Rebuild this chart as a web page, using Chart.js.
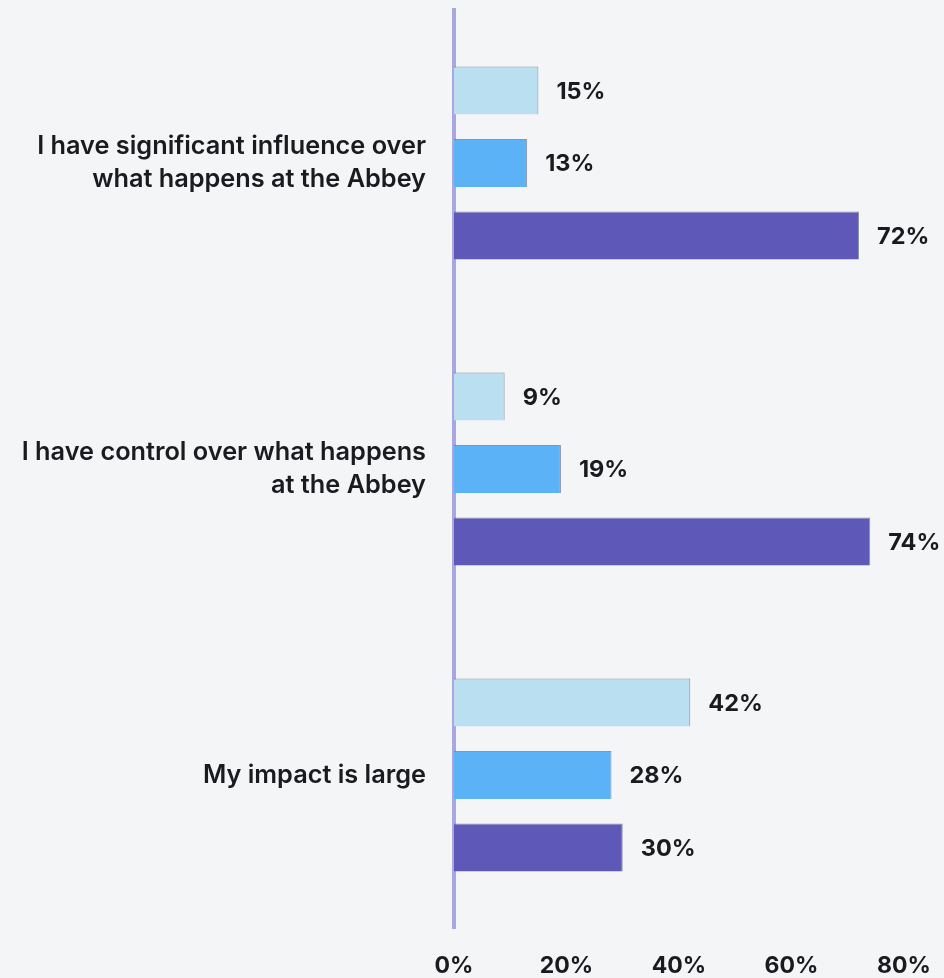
<!DOCTYPE html>
<html>
<head>
<meta charset="utf-8">
<script src="https://cdn.jsdelivr.net/npm/chart.js@4/dist/chart.umd.min.js"></script>
<style>
  html, body { margin: 0; padding: 0; background: #f4f5f7; }
  #wrap { width: 944px; height: 978px; position: relative; }
</style>
</head>
<body>
<div id="wrap"><canvas id="chart"></canvas></div>
<script>
// Survey statements (split across lines as displayed)
const categories = [
  ["I have significant influence over", "what happens at the Abbey"],
  ["I have control over what happens", "at the Abbey"],
  ["My impact is large"]
];

// Percent of respondents per group
const groupA = [15, 9, 42];
const groupB = [13, 19, 28];
const groupC = [72, 74, 30];

const xTicks = [0, 20, 40, 60, 80];

const colors = ["#b9dff0", "#5cb2f6", "#5e58b9"];

const valueLabels = {
  id: "valueLabels",
  afterDatasetsDraw(chart) {
    const ctx = chart.ctx;
    ctx.save();
    ctx.font = "700 23.5px Inter, 'DejaVu Sans', sans-serif";
    ctx.fillStyle = "#1b1b1f";
    ctx.textAlign = "left";
    ctx.textBaseline = "middle";
    chart.data.datasets.forEach((ds, i) => {
      const meta = chart.getDatasetMeta(i);
      meta.data.forEach((bar, j) => {
        ctx.fillText(ds.data[j] + "%", bar.x + 18, bar.y + 1);
      });
    });
    ctx.restore();
  }
};

new Chart(document.getElementById("chart"), {
  type: "bar",
  data: {
    labels: categories,
    datasets: [
      { label: "A", data: groupA, backgroundColor: colors[0] },
      { label: "B", data: groupB, backgroundColor: colors[1] },
      { label: "C", data: groupC, backgroundColor: colors[2] }
    ].map(d => Object.assign(d, {
      borderColor: "rgba(110,112,130,0.75)",
      borderWidth: { top: 1, right: 1, bottom: 0, left: 0 },
      borderSkipped: false,
      categoryPercentage: 0.711,
      barPercentage: 0.662
    }))
  },
  options: {
    indexAxis: "y",
    responsive: true,
    maintainAspectRatio: false,
    animation: false,
    layout: { padding: { top: 10, right: 40, bottom: 0, left: 0 } },
    plugins: {
      legend: { display: false },
      tooltip: { enabled: false }
    },
    scales: {
      x: {
        min: 0,
        max: 80,
        afterBuildTicks(scale) { scale.ticks = xTicks.map(v => ({ value: v })); },
        afterFit(scale) {
          scale.height = 50;
          scale.paddingLeft = 0;
          scale.paddingRight = 0;
        },
        grid: { display: false, drawTicks: false },
        border: { display: false },
        ticks: {
          padding: 24,
          maxRotation: 0,
          color: "#1b1b1f",
          font: { family: "Inter, 'DejaVu Sans', sans-serif", size: 23, weight: "700" },
          callback: v => v + "%"
        }
      },
      y: {
        afterFit(scale) {
          scale.width = 454;
          scale.paddingTop = 0;
          scale.paddingBottom = 0;
        },
        grid: { display: false, drawTicks: false },
        border: { display: true, color: "#a8a7e2", width: 4 },
        ticks: {
          padding: 28,
          color: "#1b1b1f",
          font: { family: "Inter, 'DejaVu Sans', sans-serif", size: 25.3, weight: "600", lineHeight: 1.3 }
        }
      }
    }
  },
  plugins: [valueLabels]
});
</script>
</body>
</html>
